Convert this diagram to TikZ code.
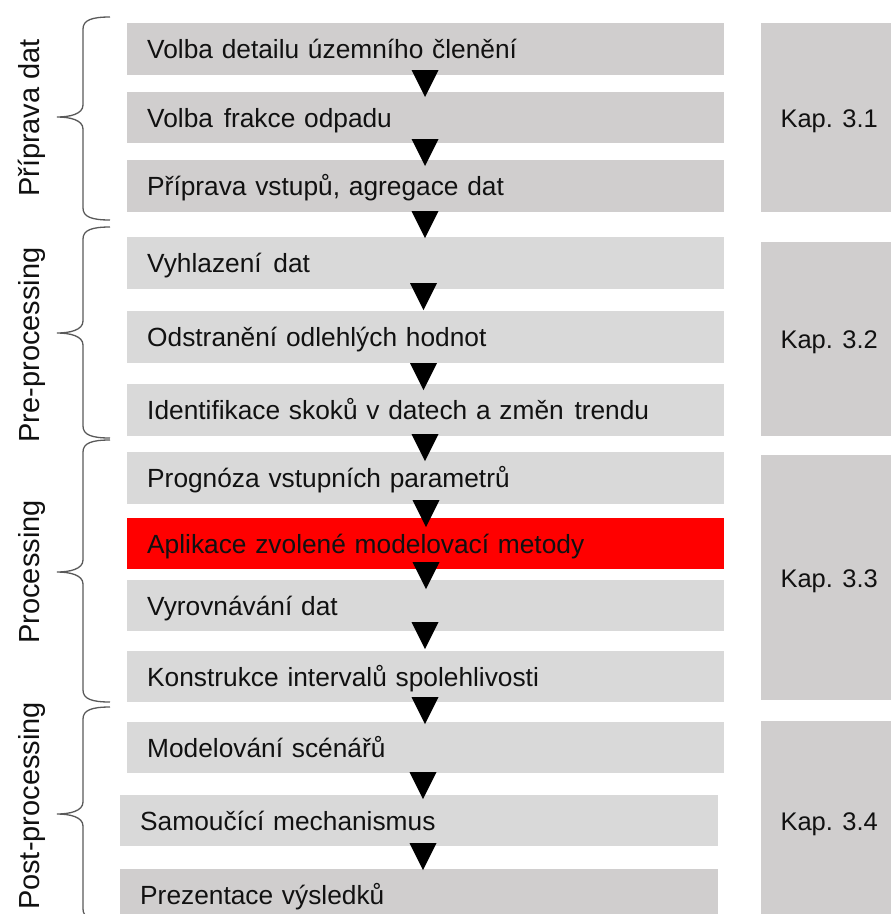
\documentclass[tikz,border=0pt]{standalone}
\usepackage{fontspec}
\setmainfont{Liberation Sans}
\usetikzlibrary{calc}
\definecolor{gdark}{HTML}{D0CECE}
\definecolor{glight}{HTML}{D9D9D9}
\definecolor{bracec}{HTML}{595959}
\definecolor{txt}{HTML}{111111}
\tikzset{
  lbox/.style={anchor=north west, inner xsep=20pt, inner ysep=0pt, text width=557pt, align=left,
    text height=19pt, text depth=0pt, font=\fontsize{26.3}{30}\selectfont, text=txt},
  kapbox/.style={anchor=north west, fill=gdark, minimum width=136pt, inner sep=0pt, align=center,
    text height=19pt, text depth=0pt, font=\fontsize{25.5}{30}\selectfont, text=txt},
  sidelabel/.style={rotate=90, anchor=base, inner sep=0pt, font=\fontsize{29}{34}\selectfont, text=txt},
  bracepath/.style={draw=bracec, line width=1.3pt},
  trifill/.style={fill=black}
}
\newcommand\mybrace[3]{%
  \draw[bracepath] (110,#1) .. controls (92,#1) and (83,#1+3) .. (83,#1+12) -- (83,#2-12)
    .. controls (83,#2-3) and (70,#2) .. (57,#2) .. controls (70,#2) and (83,#2+3) .. (83,#2+12)
    -- (83,#3-12) .. controls (83,#3-3) and (92,#3) .. (110,#3);}
\begin{document}
\begin{tikzpicture}[x=1pt,y=-1pt]
\useasboundingbox (0,0) rectangle (891,914);
\clip (0,0) rectangle (891,914);
% step boxes
\node[lbox, fill=gdark, minimum height=52pt] (b1) at (127,23) {Volba detailu územního členění};
\node[lbox, fill=gdark, minimum height=51pt] (b2) at (127,92) {Volba\hspace{2pt} frakce odpadu};
\node[lbox, fill=gdark, minimum height=52pt] (b3) at (127,160) {Příprava vstupů, agregace dat};
\node[lbox, fill=glight, minimum height=52pt] (b4) at (127,237) {Vyhlazení\hspace{3pt} dat};
\node[lbox, fill=glight, minimum height=52pt] (b5) at (127,311) {Odstranění odlehlých hodnot};
\node[lbox, fill=glight, minimum height=52pt] (b6) at (127,384) {Identifikace skoků v datech a změn\hspace{2pt} trendu};
\node[lbox, fill=glight, minimum height=52pt] (b7) at (127,452) {Prognóza vstupních parametrů};
\node[lbox, fill=red, minimum height=51pt] (b8) at (127,518) {Aplikace zvolené modelovací metody};
\node[lbox, fill=glight, minimum height=51pt] (b9) at (127,580) {Vyrovnávání dat};
\node[lbox, fill=glight, minimum height=51pt] (b10) at (127,651) {Konstrukce intervalů spolehlivosti};
\node[lbox, fill=glight, minimum height=51pt] (b11) at (127,722) {Modelování scénářů};
\node[lbox, fill=glight, minimum height=51pt, text width=558pt] (b12) at (120,795) {Samoučící mechanismus};
\node[lbox, fill=gdark, minimum height=52pt, text width=558pt] (b13) at (120,869) {Prezentace výsledků};
% chapter boxes
\node[kapbox, minimum height=189pt] (k1) at (761,23) {Kap. 3.1};
\node[kapbox, minimum height=194pt] (k2) at (761,242) {Kap. 3.2};
\node[kapbox, minimum height=245pt] (k3) at (761,455) {Kap. 3.3};
\node[kapbox, minimum height=200pt] (k4) at (761,721) {Kap. 3.4};
% triangles
\foreach \t/\cx in {70/425,139/425,211/425,283/423.5,363/423.5,434/425,500/426,562/426,622/425,697/425,772/423,843/423}{
  \fill[trifill] (\cx-13.5,\t) -- (\cx+13.5,\t) -- (\cx,\t+27) -- cycle;
}
% braces
\mybrace{17}{117}{220}
\mybrace{227}{333}{438}
\mybrace{440}{572}{702}
\mybrace{707}{814}{921}
% side labels
\node[sidelabel] (l1) at (39,118) {Příprava dat};
\node[sidelabel] (l2) at (39,345) {Pre-processing};
\node[sidelabel] (l3) at (39,572) {Processing};
\node[sidelabel] (l4) at (39,806) {Post-processing};
\end{tikzpicture}
\end{document}
